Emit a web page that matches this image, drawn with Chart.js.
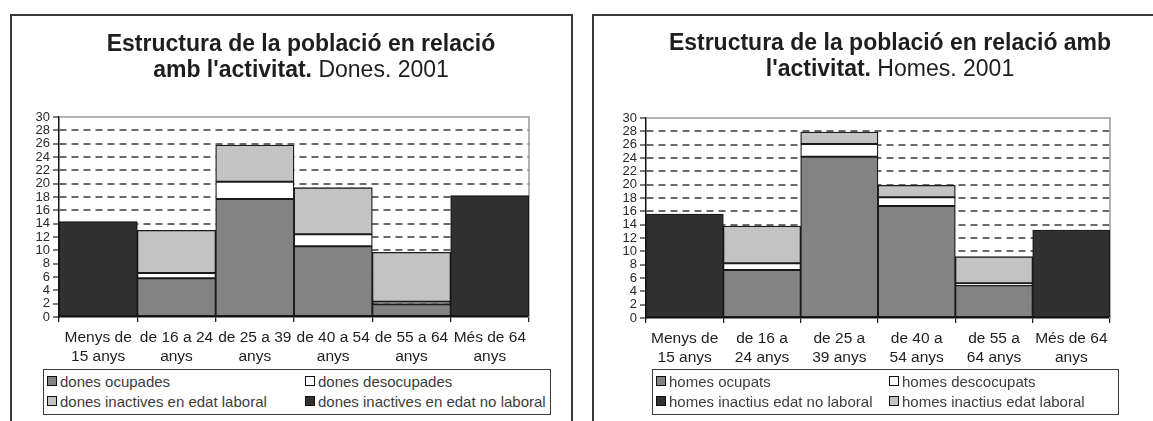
<!DOCTYPE html>
<html>
<head>
<meta charset="utf-8">
<script src="https://cdn.jsdelivr.net/npm/chart.js@4/dist/chart.umd.min.js"></script>
<style>
  html, body { margin:0; padding:0; background:#fff; }
  body { width:1153px; height:421px; position:relative; overflow:hidden; font-family:"Liberation Sans", Arial, sans-serif; }
  .frame { position:absolute; border:2px solid #3a3a3a; box-sizing:border-box; }
  canvas { position:absolute; top:0; }
  .title { position:absolute; text-align:center; font-size:23px; line-height:26px; color:#1e1e1e; white-space:nowrap; }
  .title b { font-weight:bold; }
  .legend { position:absolute; border:1.5px solid #3a3a3a; box-sizing:border-box; background:#fff; }
  .item { position:absolute; font-size:15px; color:#3c3c3c; white-space:nowrap; line-height:17px; }
  .sw { display:inline-block; width:8px; height:8px; border:1px solid #111; margin-right:3px; vertical-align:1px; }
</style>
</head>
<body>
<div class="frame" style="left:10px; top:14px; width:563px; height:430px;"></div>
<div class="frame" style="left:592px; top:14px; width:600px; height:430px;"></div>

<canvas id="cDones" width="580" height="421" style="left:0;"></canvas>
<canvas id="cHomes" width="573" height="421" style="left:580px;"></canvas>

<div class="title" style="left:51px; width:500px; top:30px;"><b>Estructura de la població en relació</b><br><b>amb l'activitat.</b> Dones. 2001</div>
<div class="title" style="left:640px; width:500px; top:29px;"><b>Estructura de la població en relació amb</b><br><b>l'activitat.</b> Homes. 2001</div>

<div class="legend" id="legDones" style="left:43px; top:369px; width:508px; height:46px;"></div>
<div class="legend" id="legHomes" style="left:652px; top:369px; width:467px; height:46px;"></div>

<script>
// ---- Data ----
const categoriesDones = [["Menys de","15 anys"],["de 16 a 24","anys"],["de 25 a 39","anys"],["de 40 a 54","anys"],["de 55 a 64","anys"],["Més de 64","anys"]];
const categoriesHomes = [["Menys de","15 anys"],["de 16 a","24 anys"],["de 25 a","39 anys"],["de 40 a","54 anys"],["de 55 a","64 anys"],["Més de 64","anys"]];

const donesOcupades        = [null, 5.8, 17.7, 10.6, 1.9, null];
const donesDesocupades     = [null, 0.8, 2.6, 1.8, 0.4, null];
const donesInactLaboral    = [null, 6.4, 5.5, 7.0, 7.4, null];
const donesInactNoLaboral  = [14.3, null, null, null, null, 18.2];

const homesOcupats         = [null, 7.2, 24.2, 16.8, 4.9, null];
const homesDescocupats     = [null, 1.0, 1.9, 1.3, 0.3, null];
const homesInactLaboral    = [null, 5.6, 1.8, 1.8, 4.0, null];
const homesInactNoLaboral  = [15.6, null, null, null, null, 13.2];

const yTickMin = 0, yTickMax = 30, yTickStep = 2;

const labelsDones = ["dones ocupades","dones desocupades","dones inactives en edat laboral","dones inactives en edat no laboral"];
const labelsHomes = ["homes ocupats","homes descocupats","homes inactius edat no laboral","homes inactius edat laboral"];

// ---- Styles ----
const C_OCU = '#838383', C_DES = '#ffffff', C_LAB = '#c3c3c3', C_NOLAB = '#313131';
const FONT = "'Liberation Sans', Arial, sans-serif";

const plotBorder = {
  id: 'plotBorder',
  beforeDatasetsDraw(chart) {
    const a = chart.chartArea, ctx = chart.ctx;
    ctx.save();
    ctx.strokeStyle = '#9a9a9a';
    ctx.lineWidth = 1.5;
    ctx.beginPath();
    ctx.moveTo(a.left, a.top); ctx.lineTo(a.right, a.top); ctx.lineTo(a.right, a.bottom);
    ctx.stroke();
    ctx.restore();
  }
};

function ds(label, data, color) {
  return { label, data, backgroundColor: color, borderColor: '#1a1a1a', borderWidth: 1.3, borderSkipped: false,
           barPercentage: 1, categoryPercentage: 1 };
}

function makeChart(id, cats, datasets, pad) {
  return new Chart(document.getElementById(id), {
    type: 'bar',
    data: { labels: cats, datasets },
    plugins: [plotBorder],
    options: {
      responsive: false, animation: false,
      layout: { padding: pad },
      plugins: { legend: { display: false }, title: { display: false }, tooltip: { enabled: false } },
      scales: {
        x: {
          stacked: true,
          afterFit(s) { s.height = 50; },
          grid: { display: true, drawOnChartArea: false, drawTicks: true, tickLength: 5, tickColor: '#222', offset: true, lineWidth: 1.3 },
          border: { display: true, color: '#111', width: 1.5 },
          ticks: { color: '#1e1e1e', padding: 6, maxRotation: 0, autoSkip: false, font: { family: FONT, size: 15.5, lineHeight: 1.22 } }
        },
        y: {
          stacked: true, min: yTickMin, max: yTickMax,
          afterFit(s) { s.width = 30; },
          grid: {
            color: c => (c.tick && (c.tick.value === yTickMin || c.tick.value === yTickMax)) ? 'rgba(0,0,0,0)' : '#6a6a6a',
            lineWidth: 2, tickLength: 6, tickColor: '#222', tickWidth: 1.2, tickBorderDash: []
          },
          border: { display: true, color: '#111', width: 1.5, dash: [7, 5] },
          ticks: { stepSize: yTickStep, color: '#2a2a2a', padding: 3, autoSkip: false, font: { family: FONT, size: 13 } }
        }
      }
    }
  });
}

makeChart('cDones', categoriesDones, [
  ds(labelsDones[0], donesOcupades, C_OCU),
  ds(labelsDones[1], donesDesocupades, C_DES),
  ds(labelsDones[2], donesInactLaboral, C_LAB),
  ds(labelsDones[3], donesInactNoLaboral, C_NOLAB)
], { left: 29, top: 117, right: 51, bottom: 54 });

makeChart('cHomes', categoriesHomes, [
  ds(labelsHomes[0], homesOcupats, C_OCU),
  ds(labelsHomes[1], homesDescocupats, C_DES),
  ds(labelsHomes[3], homesInactLaboral, C_LAB),
  ds(labelsHomes[2], homesInactNoLaboral, C_NOLAB)
], { left: 36, top: 118, right: 43, bottom: 53 });

// ---- HTML legends ----
function legend(id, items, col2) {
  const el = document.getElementById(id);
  items.forEach((it, i) => {
    const d = document.createElement('div');
    d.className = 'item';
    d.style.left = (i % 2 === 0 ? 3 : col2) + 'px';
    d.style.top = (i < 2 ? 3 : 23) + 'px';
    d.innerHTML = '<span class="sw" style="background:' + it[1] + '"></span>' + it[0];
    el.appendChild(d);
  });
}
legend('legDones', [[labelsDones[0], C_OCU], [labelsDones[1], C_DES], [labelsDones[2], C_LAB], [labelsDones[3], C_NOLAB]], 261);
legend('legHomes', [[labelsHomes[0], C_OCU], [labelsHomes[1], C_DES], [labelsHomes[2], C_NOLAB], [labelsHomes[3], C_LAB]], 236);
</script>
</body>
</html>
